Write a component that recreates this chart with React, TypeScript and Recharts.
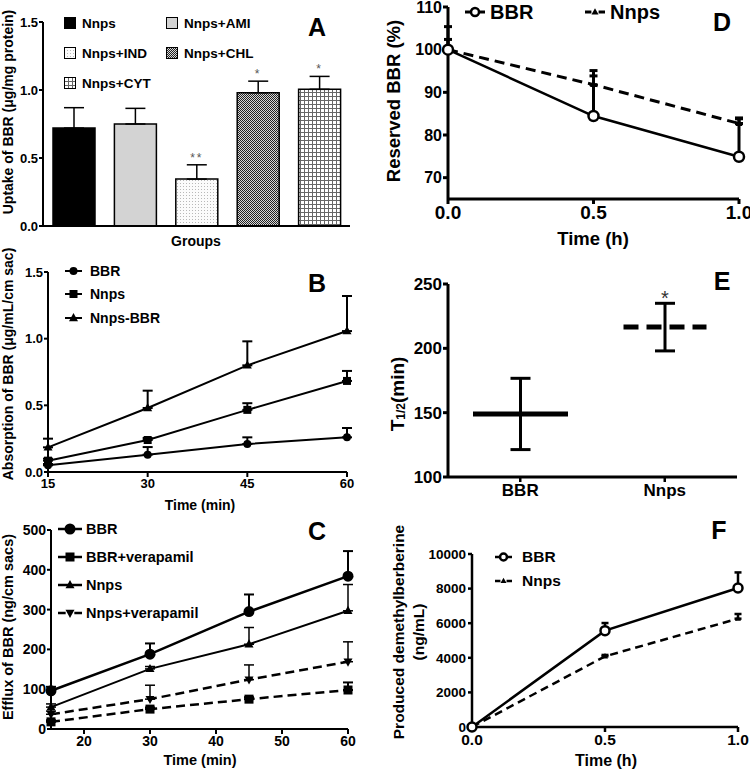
import React from 'react';
import {
  BarChart, Bar, Cell, LineChart, Line, ComposedChart, XAxis, YAxis,
  ErrorBar, Legend, LabelList, Label,
} from 'recharts';

const FONT = '"Liberation Sans", Arial, Helvetica, sans-serif';

// ---------- Panel A : uptake
const groupsA = ['Nnps', 'Nnps+AMI', 'Nnps+IND', 'Nnps+CHL', 'Nnps+CYT'];
const uptakeA = [0.72, 0.75, 0.345, 0.98, 1.005];
const uptakeErrA = [0.15, 0.115, 0.105, 0.085, 0.095];
const sigA = ['', '', '**', '*', '*'];
const yTicksA = [0, 0.5, 1.0, 1.5];

// ---------- Panel B : absorption
const timeB = [15, 30, 45, 60];
const bbrB = [0.05, 0.13, 0.21, 0.26];
const bbrErrB = [0.01, 0.057, 0.05, 0.07];
const nnpsB = [0.085, 0.24, 0.466, 0.683];
const nnpsErrB = [0.015, 0.015, 0.05, 0.075];
const nnpsBbrB = [0.185, 0.48, 0.8, 1.057];
const nnpsBbrErrB = [0.065, 0.13, 0.18, 0.263];
const yTicksB = [0, 0.5, 1.0, 1.5];

// ---------- Panel C : efflux
const timeC = [15, 30, 45, 60];
const bbrC = [96, 188, 295, 384];
const bbrErrC = [10, 27, 43, 63];
const bbrVerC = [18, 50, 75, 98];
const bbrVerErrC = [4, 4, 5, 19];
const nnpsC = [55, 151, 213, 297];
const nnpsErrC = [8, 6, 42, 66];
const nnpsVerC = [37, 75, 124, 169];
const nnpsVerErrC = [8, 35, 37, 50];
const xTicksC = [20, 30, 40, 50, 60];
const yTicksC = [0, 100, 200, 300, 400, 500];

// ---------- Panel D : reserved BBR
const timeD = [0, 0.5, 1.0];
const bbrD = [100, 84.45, 74.9];
const bbrErrD = [2.4, 9.4, 8.9];
const nnpsD = [100, 91.8, 82.7];
const nnpsErrD = [5.4, 3.3, 1.3];
const yTicksD = [70, 80, 90, 100, 110];
const xTicksD = [0, 0.5, 1.0];

// ---------- Panel E : half-life
const groupsE = ['BBR', 'Nnps'];
const halfLifeE = [149, 216.5];
const halfLifeErrE = [27.7, 18.5];
const sigE = ['', '*'];
const yTicksE = [100, 150, 200, 250];
const yDomainE: [number, number] = [100, 250];

// ---------- Panel F : demethylberberine
const timeF = [0, 0.5, 1.0];
const bbrF = [0, 5570, 8035];
const bbrErrF = [0, 440, 900];
const nnpsF = [0, 4085, 6262];
const nnpsErrF = [0, 80, 270];
const yTicksF = [0, 2000, 4000, 6000, 8000, 10000];
const xTicksF = [0, 0.5, 1.0];

// ---------- tables
const dataA = groupsA.map((g, i) => ({ name: g, v: uptakeA[i], e: [0, uptakeErrA[i]], sig: sigA[i] }));
const dataB = timeB.map((t, i) => ({
  t, bbr: bbrB[i], bbrE: [0, bbrErrB[i]], nnps: nnpsB[i], nnpsE: [0, nnpsErrB[i]],
  nb: nnpsBbrB[i], nbE: [0, nnpsBbrErrB[i]],
}));
const dataC = timeC.map((t, i) => ({
  t, bbr: bbrC[i], bbrE: [0, bbrErrC[i]], bv: bbrVerC[i], bvE: [0, bbrVerErrC[i]],
  nnps: nnpsC[i], nnpsE: [0, nnpsErrC[i]], nv: nnpsVerC[i], nvE: [0, nnpsVerErrC[i]],
}));
const dataD = timeD.map((t, i) => ({ t, bbr: bbrD[i], bbrE: [0, bbrErrD[i]], nnps: nnpsD[i], nnpsE: [0, nnpsErrD[i]] }));
const dataE = groupsE.map((g, i) => ({ name: g, v: halfLifeE[i], e: halfLifeErrE[i], sig: sigE[i] }));
const dataF = timeF.map((t, i) => ({ t, bbr: bbrF[i], bbrE: [0, bbrErrF[i]], nnps: nnpsF[i], nnpsE: [0, nnpsErrF[i]] }));

// ---------- styles
const fillsA = ['#000000', '#d3d3d3', 'url(#pIND)', 'url(#pCHL)', 'url(#pCYT)'];
const axisLine = { stroke: '#000', strokeWidth: 2 };
const tickSty = (fs: number) => ({ fontSize: fs, fontWeight: 700, fill: '#000', fontFamily: FONT });
const f1 = (v: number) => v.toFixed(1);

function Marker({ kind, cx, cy, s }: { kind: string; cx: number; cy: number; s: number }) {
  if (kind === 'circle') return <circle cx={cx} cy={cy} r={s} fill="#000" />;
  if (kind === 'ocircle') return <circle cx={cx} cy={cy} r={s} fill="#fff" stroke="#000" strokeWidth={2.5} />;
  if (kind === 'square') return <rect x={cx - s} y={cy - s} width={2 * s} height={2 * s} fill="#000" />;
  if (kind === 'tri')
    return <polygon points={`${cx},${cy - s * 1.1} ${cx - s},${cy + s * 0.7} ${cx + s},${cy + s * 0.7}`} fill="#000" />;
  return <polygon points={`${cx},${cy + s * 1.1} ${cx - s},${cy - s * 0.7} ${cx + s},${cy - s * 0.7}`} fill="#000" />;
}
const dotFn = (kind: string, s: number) => (p: any) => (
  <Marker key={`d${p.index}`} kind={kind} cx={p.cx} cy={p.cy} s={s} />
);

type LegItem = { name: string; kind: string; s: number; dashed?: boolean };
function legendContent(items: LegItem[], o: { row?: boolean; rowH: number; itemW?: number; mw: number; gap: number; fs: number; lw: number }) {
  return () => (
    <div style={{ display: 'flex', flexDirection: o.row ? 'row' : 'column', fontFamily: FONT, fontWeight: 700, fontSize: o.fs, color: '#000' }}>
      {items.map((it) => (
        <div key={it.name} style={{ display: 'flex', alignItems: 'center', height: o.rowH, width: o.itemW }}>
          <svg width={o.mw} height={16} style={{ flex: 'none', overflow: 'visible' }}>
            <line x1={0} x2={o.mw} y1={8} y2={8} stroke="#000" strokeWidth={o.lw}
              strokeDasharray={it.dashed ? `${o.mw * 0.32} ${o.mw * 0.36} ${o.mw * 0.32}` : undefined} />
            <Marker kind={it.kind} cx={o.mw / 2} cy={8} s={it.s} />
          </svg>
          <span style={{ marginLeft: o.gap, whiteSpace: 'nowrap' }}>{it.name}</span>
        </div>
      ))}
    </div>
  );
}

const vTitle = (x: number, y: number, fs: number, text: React.ReactNode) => () => (
  <text x={x} y={y} transform={`rotate(-90 ${x} ${y})`} textAnchor="middle" dominantBaseline="central"
    fontSize={fs} fontWeight={700} fontFamily={FONT} fill="#000">{text}</text>
);
const hTitle = (x: number, y: number, fs: number, text: string) => () => (
  <text x={x} y={y} textAnchor="middle" dominantBaseline="central" fontSize={fs} fontWeight={700} fontFamily={FONT} fill="#000">{text}</text>
);

function Letter({ x, y, t }: { x: number; y: number; t: string }) {
  return (
    <div style={{ position: 'absolute', left: x, top: y, transform: 'translate(-50%,-50%)', fontFamily: FONT, fontWeight: 700, fontSize: 25, lineHeight: 1 }}>{t}</div>
  );
}

// ---------- Panel A
const LegendA = () => (
  <div style={{ display: 'grid', gridTemplateColumns: '102px 120px', gridAutoRows: '30px', fontFamily: FONT, fontWeight: 700, fontSize: 13.5 }}>
    {groupsA.map((g, i) => (
      <div key={g} style={{ display: 'flex', alignItems: 'center' }}>
        <svg width={12} height={12} style={{ marginRight: 6, flex: 'none' }}>
          <rect x={0.5} y={0.5} width={11} height={11} fill={fillsA[i]} stroke="#000" strokeWidth={1} />
        </svg>
        <span>{g}</span>
      </div>
    ))}
  </div>
);

const StarA = (props: any) => {
  const vb = props.viewBox && props.viewBox.width !== undefined ? props.viewBox : props;
  const { x, y, width, height } = vb;
  const i = props.index;
  if (i === undefined || !sigA[i]) return null;
  const d = dataA[i];
  const top = y - (d.e[1] * height) / d.v;
  return (
    <text x={x + width / 2} y={top - 3} textAnchor="middle" fontSize={12} fill="#555" fontFamily={FONT} letterSpacing={2}>{sigA[i]}</text>
  );
};

function PanelA() {
  return (
    <BarChart width={375} height={255} data={dataA} margin={{ top: 22, right: 25, bottom: 0, left: 0 }}>
      <XAxis dataKey="name" height={29} tick={false} tickSize={5} axisLine={axisLine} tickLine={axisLine}>
        <Label content={hTitle(196, 241, 14, 'Groups')} />
      </XAxis>
      <YAxis width={43} domain={[0, 1.5]} ticks={yTicksA} interval={0} tickFormatter={f1} tick={tickSty(13)}
        tickSize={4} tickMargin={1} axisLine={axisLine} tickLine={axisLine}>
        <Label content={vTitle(8, 112, 14, 'Uptake of BBR (μg/mg protein)')} />
      </YAxis>
      <Legend content={LegendA} verticalAlign="middle" align="center" wrapperStyle={{ left: 64, top: 8, width: 230 }} />
      <Bar dataKey="v" barSize={42} stroke="#000" strokeWidth={1.5} isAnimationActive={false}>
        {dataA.map((d, i) => <Cell key={d.name} fill={fillsA[i]} />)}
        <ErrorBar dataKey="e" width={10} strokeWidth={1.5} stroke="#000" direction="y" />
        <LabelList dataKey="sig" content={StarA} />
      </Bar>
    </BarChart>
  );
}

// ---------- Panel B
const legB: LegItem[] = [
  { name: 'BBR', kind: 'circle', s: 4 },
  { name: 'Nnps', kind: 'square', s: 4 },
  { name: 'Nnps-BBR', kind: 'tri', s: 4.5 },
];
function PanelB() {
  return (
    <LineChart width={375} height={280} data={dataB} margin={{ top: 37, right: 28, bottom: 0, left: 0 }}>
      <XAxis dataKey="t" type="number" domain={[15, 60]} ticks={timeB} interval={0} height={43} tick={tickSty(13)}
        tickSize={5} tickMargin={2} axisLine={axisLine} tickLine={axisLine}>
        <Label content={hTitle(200, 270, 14, 'Time (min)')} />
      </XAxis>
      <YAxis width={48} domain={[0, 1.5]} ticks={yTicksB} interval={0} tickFormatter={f1} tick={tickSty(13)}
        tickSize={4} tickMargin={1} axisLine={axisLine} tickLine={axisLine}>
        <Label content={vTitle(8, 129, 14, 'Absorption of BBR (μg/mL/cm sac)')} />
      </YAxis>
      <Legend content={legendContent(legB, { rowH: 23.5, mw: 17, gap: 8, fs: 14, lw: 2 })}
        verticalAlign="middle" align="center" wrapperStyle={{ left: 65, top: 24, width: 150 }} />
      <Line dataKey="bbr" stroke="#000" strokeWidth={2} dot={dotFn('circle', 4)} isAnimationActive={false}>
        <ErrorBar dataKey="bbrE" width={5} strokeWidth={2} stroke="#000" direction="y" />
      </Line>
      <Line dataKey="nnps" stroke="#000" strokeWidth={2} dot={dotFn('square', 4)} isAnimationActive={false}>
        <ErrorBar dataKey="nnpsE" width={5} strokeWidth={2} stroke="#000" direction="y" />
      </Line>
      <Line dataKey="nb" stroke="#000" strokeWidth={2} dot={dotFn('tri', 4.5)} isAnimationActive={false}>
        <ErrorBar dataKey="nbE" width={5} strokeWidth={2} stroke="#000" direction="y" />
      </Line>
    </LineChart>
  );
}

// ---------- Panel C
const legC: LegItem[] = [
  { name: 'BBR', kind: 'circle', s: 5.5 },
  { name: 'BBR+verapamil', kind: 'square', s: 4.5 },
  { name: 'Nnps', kind: 'tri', s: 4.5 },
  { name: 'Nnps+verapamil', kind: 'itri', s: 4.5, dashed: true },
];
function PanelC() {
  return (
    <LineChart width={375} height={255} data={dataC} margin={{ top: 15, right: 27, bottom: 0, left: 0 }}>
      <XAxis dataKey="t" type="number" domain={[15, 60]} ticks={xTicksC} interval={0} height={41} tick={tickSty(14)}
        tickSize={5} tickMargin={2} axisLine={axisLine} tickLine={axisLine}>
        <Label content={hTitle(200, 245, 14.5, 'Time (min)')} />
      </XAxis>
      <YAxis width={51} domain={[0, 500]} ticks={yTicksC} interval={0} tick={tickSty(14)}
        tickSize={4} tickMargin={1} axisLine={axisLine} tickLine={axisLine}>
        <Label content={vTitle(8, 112, 14.5, 'Efflux of BBR (ng/cm sacs)')} />
      </YAxis>
      <Legend content={legendContent(legC, { rowH: 28, mw: 24, gap: 4, fs: 14.5, lw: 2.5 })}
        verticalAlign="middle" align="center" wrapperStyle={{ left: 58, top: 0, width: 200 }} />
      <Line dataKey="bbr" stroke="#000" strokeWidth={2.5} dot={dotFn('circle', 5.5)} isAnimationActive={false}>
        <ErrorBar dataKey="bbrE" width={5} strokeWidth={2} stroke="#000" direction="y" />
      </Line>
      <Line dataKey="bv" stroke="#000" strokeWidth={2.5} strokeDasharray="9 5" dot={dotFn('square', 4.5)} isAnimationActive={false}>
        <ErrorBar dataKey="bvE" width={5} strokeWidth={2} stroke="#000" direction="y" />
      </Line>
      <Line dataKey="nnps" stroke="#000" strokeWidth={2} dot={dotFn('tri', 4.5)} isAnimationActive={false}>
        <ErrorBar dataKey="nnpsE" width={5} strokeWidth={1.5} stroke="#000" direction="y" />
      </Line>
      <Line dataKey="nv" stroke="#000" strokeWidth={2.5} strokeDasharray="9 5" dot={dotFn('itri', 4.5)} isAnimationActive={false}>
        <ErrorBar dataKey="nvE" width={5} strokeWidth={1.5} stroke="#000" direction="y" />
      </Line>
    </LineChart>
  );
}

// ---------- Panel D
const legD: LegItem[] = [
  { name: 'BBR', kind: 'ocircle', s: 4 },
  { name: 'Nnps', kind: 'tri', s: 3.5, dashed: true },
];
function PanelD() {
  return (
    <LineChart width={375} height={255} data={dataD} margin={{ top: 7, right: 11, bottom: 0, left: 0 }}>
      <XAxis dataKey="t" type="number" domain={[0, 1]} ticks={xTicksD} interval={0} tickFormatter={f1} height={56}
        tick={tickSty(19)} tickSize={5} tickMargin={2} axisLine={{ stroke: '#000', strokeWidth: 3 }} tickLine={{ stroke: '#000', strokeWidth: 3 }}>
        <Label content={hTitle(218, 238, 18.5, 'Time (h)')} />
      </XAxis>
      <YAxis width={73} domain={[65, 110]} ticks={yTicksD} interval={0} tick={tickSty(16)}
        tickSize={5} tickMargin={1} axisLine={{ stroke: '#000', strokeWidth: 3 }} tickLine={{ stroke: '#000', strokeWidth: 3 }}>
        <Label content={vTitle(18, 101, 18.5, 'Reserved BBR (%)')} />
      </YAxis>
      <Legend content={legendContent(legD, { row: true, rowH: 24, itemW: 120, mw: 20, gap: 5, fs: 20, lw: 3 })}
        verticalAlign="middle" align="center" wrapperStyle={{ left: 90, top: 0, width: 260 }} />
      <Line dataKey="nnps" stroke="#000" strokeWidth={3} strokeDasharray="10 6" dot={dotFn('tri', 3.5)} isAnimationActive={false}>
        <ErrorBar dataKey="nnpsE" width={4} strokeWidth={3} stroke="#000" direction="y" />
      </Line>
      <Line dataKey="bbr" stroke="#000" strokeWidth={2.5} dot={dotFn('ocircle', 5)} isAnimationActive={false}>
        <ErrorBar dataKey="bbrE" width={4} strokeWidth={3} stroke="#000" direction="y" />
      </Line>
    </LineChart>
  );
}

// ---------- Panel E
const StarE = (props: any) => {
  const vb = props.viewBox && props.viewBox.width !== undefined ? props.viewBox : props;
  const { x, y, width, height } = vb;
  const i = props.index;
  if (i === undefined || !sigE[i]) return null;
  const d = dataE[i];
  const top = y - (d.e * height) / (d.v - yDomainE[0]);
  return (
    <text x={x + width / 2} y={top + 2} textAnchor="middle" fontSize={20} fill="#333" fontFamily={FONT}>{sigE[i]}</text>
  );
};
const MeanLine = (p: any) => {
  const dashed = p.index === 1;
  const w = dashed ? 83 : 95;
  const cx = p.x + p.width / 2;
  return (
    <line x1={cx - w / 2} x2={cx + w / 2} y1={p.y} y2={p.y} stroke="#000" strokeWidth={5}
      strokeDasharray={dashed ? '15 8' : undefined} />
  );
};
function TitleE() {
  const x = 22, y = 139;
  return (
    <text x={x} y={y} transform={`rotate(-90 ${x} ${y})`} textAnchor="middle" dominantBaseline="central"
      fontSize={19} fontWeight={700} fontFamily={FONT} fill="#000">
      T<tspan fontSize={12} dy={4}>1/2</tspan><tspan dy={-4}>(min)</tspan>
    </text>
  );
}
function PanelE() {
  return (
    <ComposedChart width={375} height={260} data={dataE} margin={{ top: 29, right: 13, bottom: 0, left: 0 }}>
      <XAxis dataKey="name" height={38} tick={tickSty(17)} tickSize={5} tickMargin={2}
        axisLine={{ stroke: '#000', strokeWidth: 3 }} tickLine={{ stroke: '#000', strokeWidth: 2.5 }} />
      <YAxis width={73} domain={yDomainE} ticks={yTicksE} interval={0} tick={tickSty(17)}
        tickSize={5} tickMargin={1} axisLine={{ stroke: '#000', strokeWidth: 3 }} tickLine={{ stroke: '#000', strokeWidth: 3 }}>
        <Label content={() => <TitleE />} />
      </YAxis>
      <Bar dataKey="v" barSize={95} shape={MeanLine} isAnimationActive={false}>
        <ErrorBar dataKey="e" width={10} strokeWidth={3} stroke="#000" direction="y" />
        <LabelList dataKey="sig" content={StarE} />
      </Bar>
    </ComposedChart>
  );
}

// ---------- Panel F
const legF: LegItem[] = [
  { name: 'BBR', kind: 'ocircle', s: 3.5 },
  { name: 'Nnps', kind: 'tri', s: 3, dashed: true },
];
function PanelF() {
  return (
    <LineChart width={375} height={255} data={dataF} margin={{ top: 39, right: 12, bottom: 0, left: 0 }}>
      <XAxis dataKey="t" type="number" domain={[0, 1]} ticks={xTicksF} interval={0} tickFormatter={f1} height={43}
        tick={tickSty(15.5)} tickSize={5} tickMargin={2} axisLine={{ stroke: '#000', strokeWidth: 2.5 }} tickLine={{ stroke: '#000', strokeWidth: 2.5 }}>
        <Label content={hTitle(231, 245, 16, 'Time (h)')} />
      </XAxis>
      <YAxis width={97} domain={[0, 10000]} ticks={yTicksF} interval={0} tick={tickSty(13.5)}
        tickSize={4} tickMargin={2} axisLine={{ stroke: '#000', strokeWidth: 2.5 }} tickLine={{ stroke: '#000', strokeWidth: 2.5 }}>
        <Label content={() => (
          <g>
            {vTitle(23, 117, 15.5, 'Produced demethylberberine')()}
            {vTitle(43, 117, 15.5, '(ng/mL)')()}
          </g>
        )} />
      </YAxis>
      <Legend content={legendContent(legF, { rowH: 24, mw: 17, gap: 10, fs: 15.5, lw: 2.5 })}
        verticalAlign="middle" align="center" wrapperStyle={{ left: 120, top: 30, width: 120 }} />
      <Line dataKey="nnps" stroke="#000" strokeWidth={2.5} strokeDasharray="8 5" dot={dotFn('tri', 3)} isAnimationActive={false}>
        <ErrorBar dataKey="nnpsE" width={3.5} strokeWidth={2.5} stroke="#000" direction="y" />
      </Line>
      <Line dataKey="bbr" stroke="#000" strokeWidth={2.5} dot={dotFn('ocircle', 4.5)} isAnimationActive={false}>
        <ErrorBar dataKey="bbrE" width={3.5} strokeWidth={2.5} stroke="#000" direction="y" />
      </Line>
    </LineChart>
  );
}

export default function App() {
  return (
    <div style={{ position: 'absolute', left: 0, top: 0, width: 750, height: 770, background: '#fff', overflow: 'hidden', fontFamily: FONT }}>
      <svg width={0} height={0} style={{ position: 'absolute' }}>
        <defs>
          <pattern id="pIND" width={3} height={3} patternUnits="userSpaceOnUse">
            <rect width={3} height={3} fill="#fbfbfb" />
            <rect x={0} y={0} width={1} height={1} fill="#b8b8b8" />
          </pattern>
          <pattern id="pCHL" width={2} height={2} patternUnits="userSpaceOnUse">
            <rect width={2} height={2} fill="#d8d8d8" />
            <rect x={0} y={0} width={1} height={1} fill="#222" />
            <rect x={1} y={1} width={1} height={1} fill="#222" />
          </pattern>
          <pattern id="pCYT" width={4} height={4} patternUnits="userSpaceOnUse">
            <rect width={4} height={4} fill="#fff" />
            <rect x={0} y={0} width={4} height={1} fill="#666" />
            <rect x={0} y={0} width={1} height={4} fill="#666" />
          </pattern>
        </defs>
      </svg>
      <div style={{ position: 'absolute', left: 0, top: 0 }}><PanelA /></div>
      <div style={{ position: 'absolute', left: 0, top: 235 }}><PanelB /></div>
      <div style={{ position: 'absolute', left: 0, top: 515 }}><PanelC /></div>
      <div style={{ position: 'absolute', left: 375, top: 0 }}><PanelD /></div>
      <div style={{ position: 'absolute', left: 375, top: 255 }}><PanelE /></div>
      <div style={{ position: 'absolute', left: 375, top: 515 }}><PanelF /></div>
      <Letter x={317} y={27} t="A" />
      <Letter x={317} y={283} t="B" />
      <Letter x={317} y={531} t="C" />
      <Letter x={722} y={22} t="D" />
      <Letter x={722} y={281} t="E" />
      <Letter x={719} y={530} t="F" />
    </div>
  );
}
